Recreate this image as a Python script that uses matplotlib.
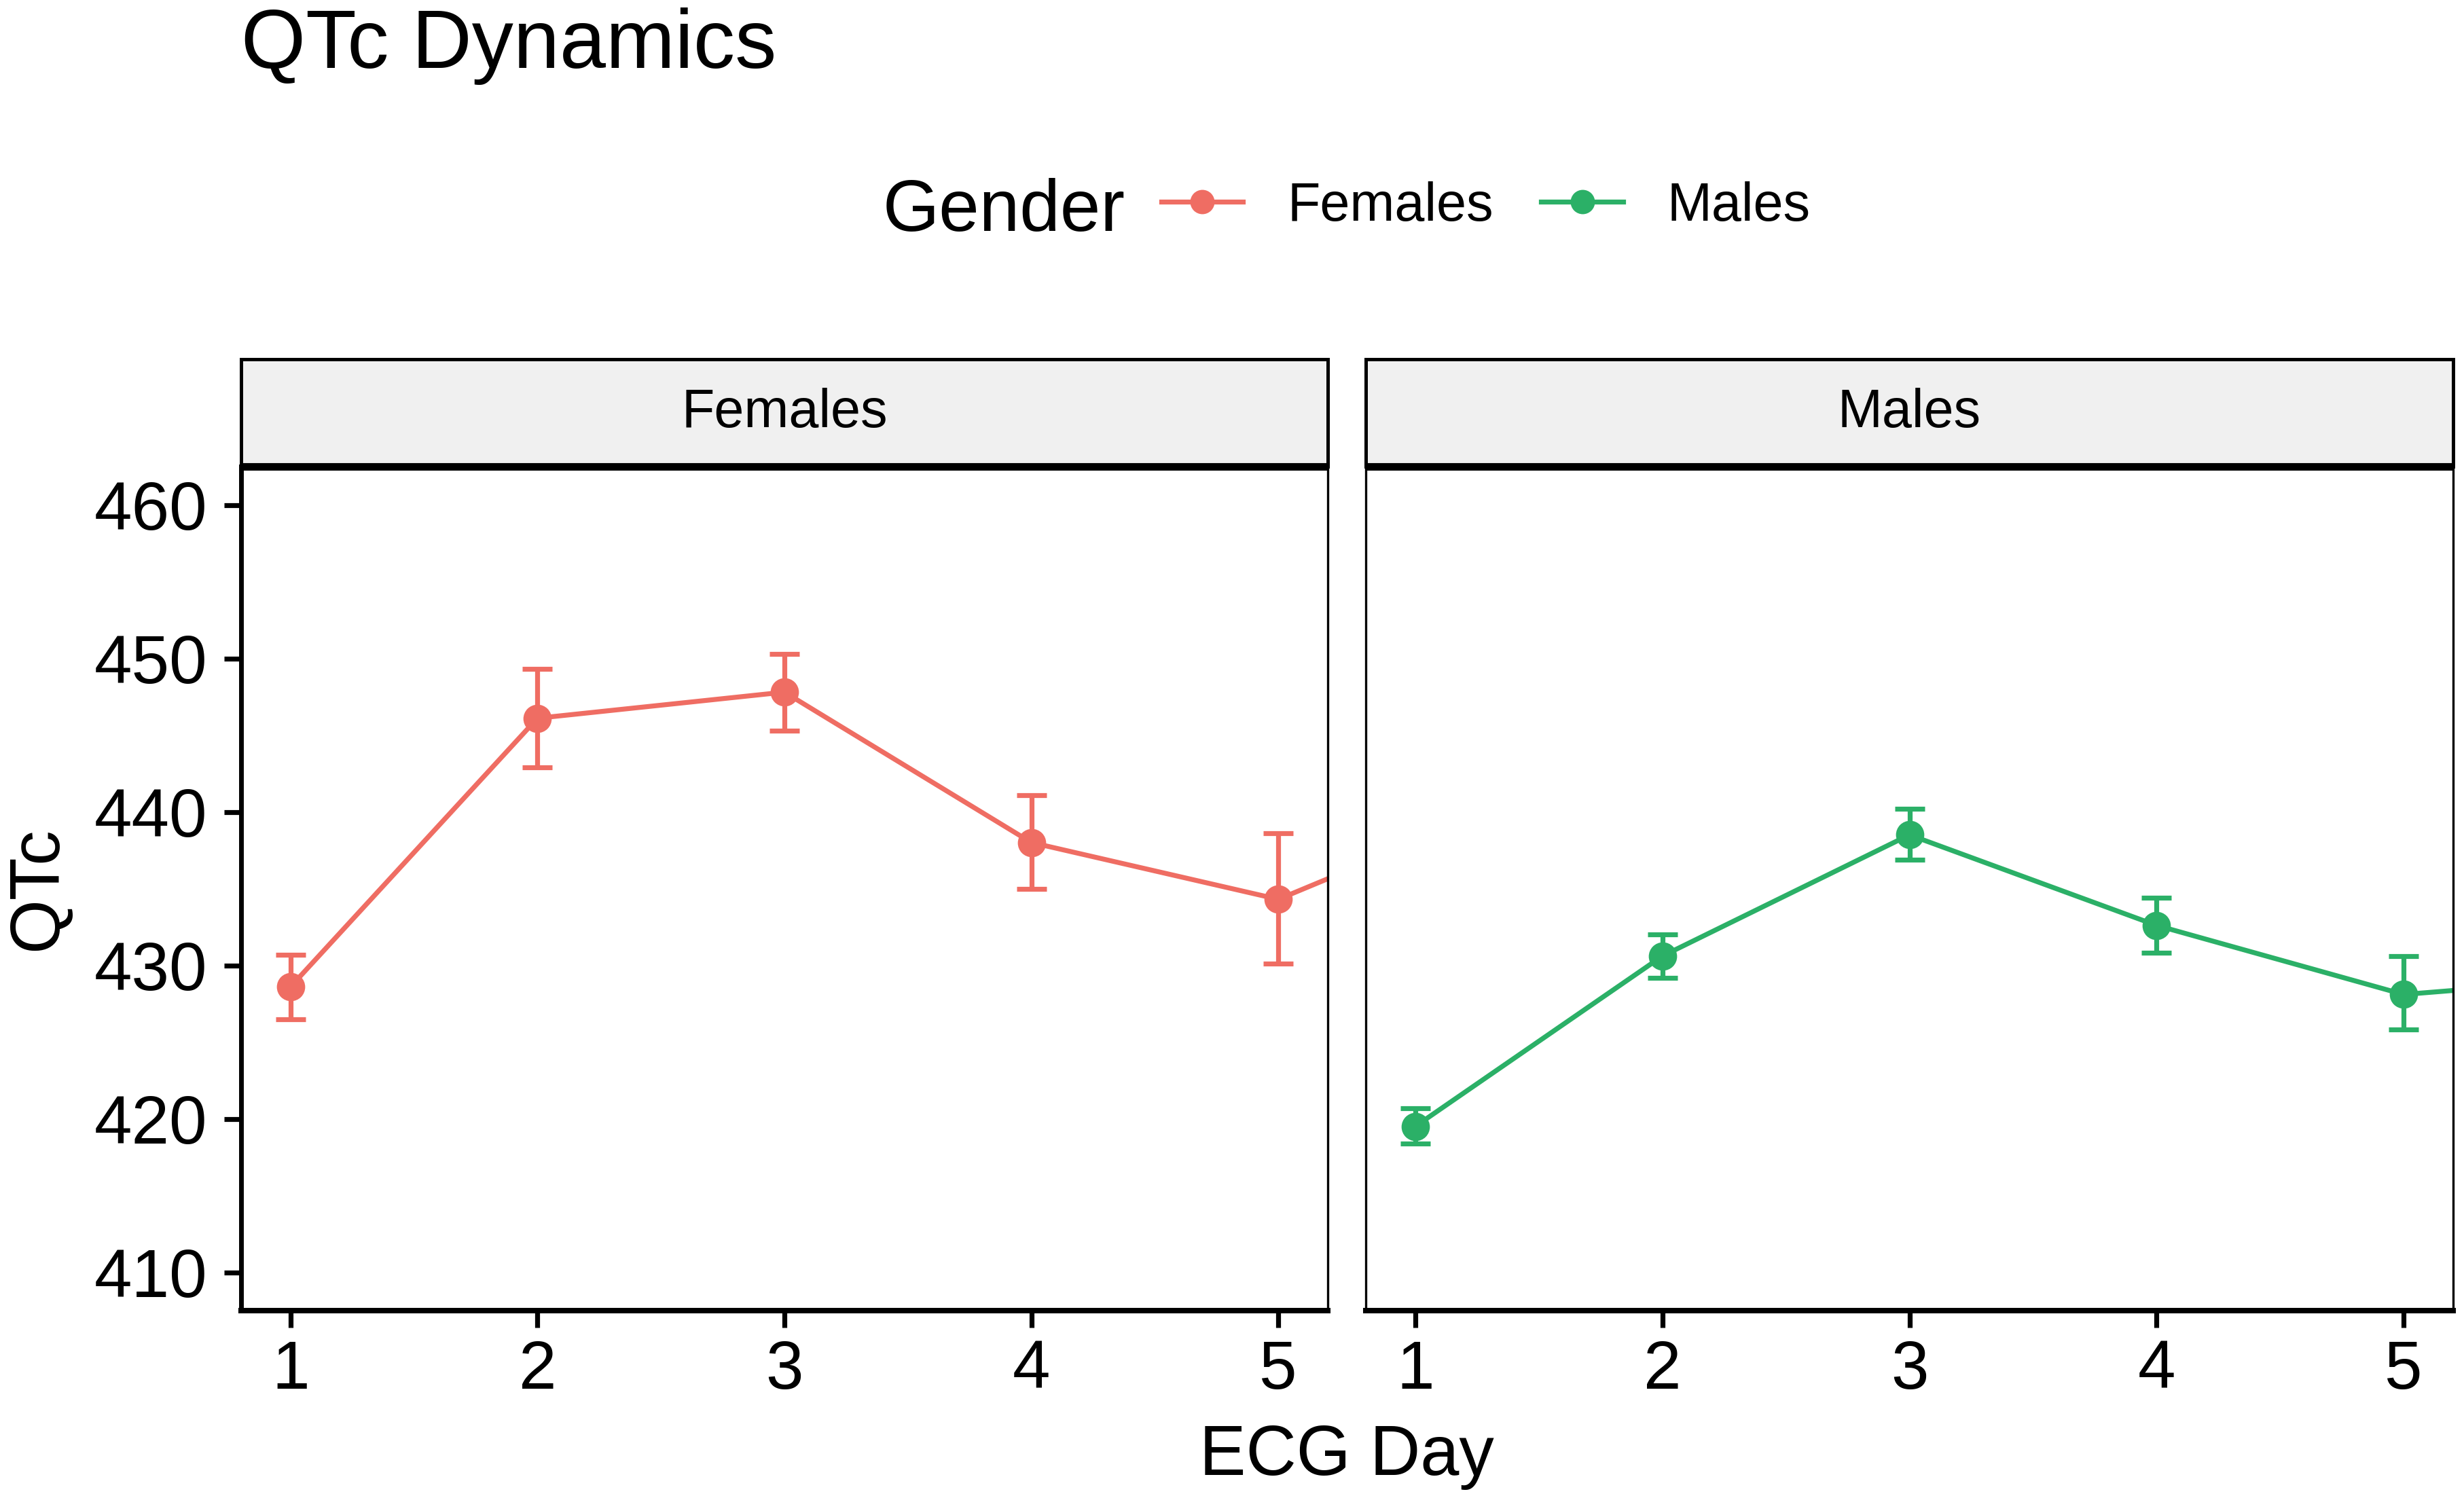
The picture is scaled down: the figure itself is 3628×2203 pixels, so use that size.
import matplotlib
matplotlib.use("Agg")
import matplotlib.pyplot as plt

plt.rcParams['font.family'] = ['Liberation Sans', 'DejaVu Sans']

# data (day 6 is only visible as the line leaving the panel)
days = [1, 2, 3, 4, 5, 6]
females_mean = [428.6, 446.1, 447.8, 438.0, 434.3, 441.0]
females_lo = [426.5, 442.9, 445.3, 435.0, 430.1, 437.0]
females_hi = [430.7, 449.3, 450.3, 441.1, 438.6, 445.0]
males_mean = [419.5, 430.6, 438.5, 432.6, 428.1, 429.4]
males_lo = [418.4, 429.2, 436.9, 430.8, 425.8, 427.0]
males_hi = [420.7, 432.0, 440.2, 434.4, 430.6, 431.8]

groups = ['Females', 'Males']
colors = {'Females': '#EF6D63', 'Males': '#2BB067'}
series = {
    'Females': (females_mean, females_lo, females_hi),
    'Males': (males_mean, males_lo, males_hi),
}
x_ticks = [1, 2, 3, 4, 5]
y_ticks = [410, 420, 430, 440, 450, 460]

W, H = 3628, 2203
fig = plt.figure(figsize=(W / 200, H / 200), dpi=200)


def fx(px):
    return px / W


def fy(py):
    return 1 - py / H


panel_top, panel_bot, strip_top = 687, 1930, 529
lefts = [(355, 1955), (2011, 3612)]

handles = []
for i, g in enumerate(groups):
    x0, x1 = lefts[i]
    ax = fig.add_axes([fx(x0), fy(panel_bot), fx(x1 - x0), (panel_bot - panel_top) / H])
    mean, lo, hi = series[g]
    err = [[m - l for m, l in zip(mean, lo)], [h - m for m, h in zip(mean, hi)]]
    cont = ax.errorbar(days, mean, yerr=err, fmt='-o', color=colors[g], lw=2.6,
                       ms=14, elinewidth=2.6, capsize=8, capthick=2.6)
    handles.append(cont[0])
    ax.set_xlim(0.8, 5.2)
    ax.set_ylim(407.5, 462.5)
    ax.set_xticks(x_ticks)
    ax.set_yticks(y_ticks)
    ax.tick_params(axis='x', labelsize=36, length=9, width=2.6, pad=6)
    ax.tick_params(axis='y', labelsize=36, length=9, width=2.6, pad=9)
    for s in ['top', 'right']:
        ax.spines[s].set_linewidth(1.2)
    ax.spines['bottom'].set_linewidth(2.9)
    if i == 0:
        ax.spines['left'].set_linewidth(2.5)
        ax.set_ylabel('QTc', fontsize=37, labelpad=12)
    else:
        ax.spines['left'].set_linewidth(1.2)
        ax.tick_params(axis='y', left=False, labelleft=False)

    sx = fig.add_axes([fx(x0), fy(panel_top), fx(x1 - x0), (panel_top - strip_top) / H])
    sx.set_facecolor('#F0F0F0')
    sx.set_xticks([])
    sx.set_yticks([])
    for s in ['top', 'left', 'right']:
        sx.spines[s].set_linewidth(1.8)
    sx.spines['bottom'].set_linewidth(4.0)
    sx.spines['bottom'].set_capstyle('butt')
    sx.text(0.5, 0.5, g, ha='center', va='center', fontsize=28.5, transform=sx.transAxes)

fig.text(fx(1983), fy(2172), 'ECG Day', ha='center', va='baseline', fontsize=37)
fig.text(fx(355), fy(100), 'QTc Dynamics', ha='left', va='baseline', fontsize=44)
fig.text(fx(1300), fy(340), 'Gender', ha='left', va='baseline', fontsize=38.5)

fig.legend(handles, groups, ncol=2, loc='center left',
           bbox_to_anchor=(fx(1710), fy(304)), frameon=False, fontsize=28.5,
           handlelength=1.52, handletextpad=0.82, columnspacing=0.89,
           borderpad=0, borderaxespad=0, markerscale=0.85)

fig.savefig('out.png', dpi=200)
